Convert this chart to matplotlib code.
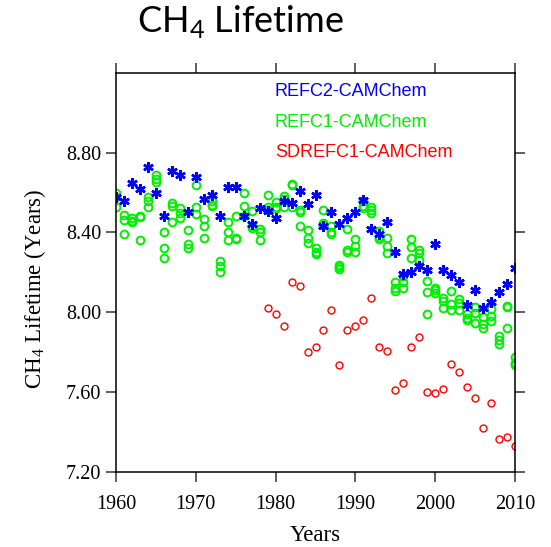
import numpy as np
import matplotlib.pyplot as plt

plt.rcParams['mathtext.fontset'] = 'custom'
plt.rcParams['mathtext.rm'] = 'Liberation Serif'
plt.rcParams['mathtext.sf'] = 'Lato'

# REFC2 run, one value per year 1960-2010
years_c2 = np.arange(1960, 2011)
life_c2 = [8.58, 8.56, 8.65, 8.62, 8.73, 8.60, 8.48, 8.71, 8.69, 8.50,
           8.68, 8.57, 8.59, 8.48, 8.63, 8.63, 8.48, 8.44, 8.52, 8.505,
           8.47, 8.56, 8.55, 8.61, 8.545, 8.59, 8.43, 8.50, 8.44, 8.47,
           8.50, 8.565, 8.415, 8.39, 8.45, 8.30, 8.19, 8.20, 8.23, 8.21,
           8.34, 8.21, 8.185, 8.15, 8.035, 8.11, 8.02, 8.05, 8.10, 8.14,
           8.22]

# REFC1 ensemble, three members per year 1960-2010
years_c1 = np.arange(1960, 2011)
life_c1 = [
    [8.60, 8.58, 8.53], [8.485, 8.46, 8.39], [8.47, 8.455, 8.45],
    [8.48, 8.475, 8.36], [8.58, 8.56, 8.53], [8.69, 8.67, 8.655],
    [8.40, 8.32, 8.27], [8.55, 8.535, 8.45], [8.52, 8.495, 8.47],
    [8.41, 8.34, 8.32], [8.64, 8.53, 8.49], [8.465, 8.43, 8.37],
    [8.56, 8.54, 8.535], [8.255, 8.23, 8.20], [8.45, 8.40, 8.36],
    [8.48, 8.37, 8.365], [8.60, 8.535, 8.48], [8.505, 8.43, 8.42],
    [8.415, 8.40, 8.36], [8.59, 8.53, 8.51], [8.555, 8.53, 8.52],
    [8.585, 8.57, 8.525], [8.645, 8.64, 8.53], [8.51, 8.50, 8.43],
    [8.41, 8.37, 8.345], [8.32, 8.30, 8.29], [8.51, 8.445, 8.435],
    [8.43, 8.40, 8.39], [8.235, 8.225, 8.215], [8.415, 8.31, 8.30],
    [8.365, 8.33, 8.30], [8.56, 8.535, 8.52], [8.53, 8.51, 8.495],
    [8.405, 8.375, 8.365], [8.37, 8.33, 8.295], [8.15, 8.12, 8.105],
    [8.18, 8.15, 8.12], [8.365, 8.325, 8.27], [8.31, 8.295, 8.26],
    [8.155, 8.10, 7.99], [8.12, 8.11, 8.095], [8.07, 8.055, 8.02],
    [8.105, 8.04, 8.01], [8.065, 8.045, 8.01], [7.99, 7.97, 7.96],
    [8.025, 7.995, 7.945], [7.975, 7.94, 7.92], [8.015, 7.98, 7.955],
    [7.88, 7.86, 7.84], [8.03, 8.025, 7.92], [7.775, 7.745, 7.735],
]

# SD run, 1979-2010
years_sd = np.arange(1979, 2011)
life_sd = [8.02, 7.99, 7.93, 8.15, 8.13, 7.80, 7.825, 7.91, 8.01, 7.735,
           7.91, 7.93, 7.96, 8.07, 7.825, 7.805, 7.61, 7.645, 7.825, 7.875,
           7.60, 7.595, 7.615, 7.74, 7.70, 7.625, 7.57, 7.42, 7.545, 7.365,
           7.375, 7.33]

labels = ['REFC2-CAMChem', 'REFC1-CAMChem', 'SDREFC1-CAMChem']
colors = ['#0000ff', '#00ee00', '#ff0000']

fig = plt.figure(figsize=(5.51, 5.47), dpi=100)
ax = fig.add_axes([0.2105, 0.1371, 0.7242, 0.7299])

c1 = np.array(life_c1)
for k in range(c1.shape[1]):
    ax.plot(years_c1, c1[:, k], 'o', mfc='none', mec=colors[1], ms=5.6, mew=1.4)
ax.plot(years_sd, life_sd, 'o', mfc='none', mec=colors[2], ms=5.0, mew=1.0)
ax.plot(years_c2, life_c2, marker=(6, 2, 0), ls='none', color=colors[0],
        ms=7.5, mew=1.8)

ax.set_xlim(1960, 2010)
ax.set_ylim(7.2, 9.2)
ax.set_xticks(np.arange(1960, 2011, 10))
ax.set_yticks(np.arange(7.2, 8.81, 0.4))
ax.set_yticklabels(['%.2f' % v for v in np.arange(7.2, 8.81, 0.4)])
ax.tick_params(direction='out', length=7.5, width=1.1, color='#333333',
               top=True, right=True, labelsize=14.5)
ax.tick_params(axis='x', pad=9)
ax.tick_params(axis='y', pad=3)
for lab in ax.get_xticklabels() + ax.get_yticklabels():
    lab.set_family('Liberation Serif')
for s in ax.spines.values():
    s.set_linewidth(1.1)

ax.set_xlabel('Years', family='Liberation Serif', fontsize=16.5)
ax.set_ylabel(r'CH$_4$ Lifetime (Years)', family='Liberation Serif',
              fontsize=16.5)
ax.xaxis.set_label_coords(0.5, -0.133)
ax.yaxis.set_label_coords(-0.17, 0.46)

for i in range(3):
    ax.text(0.398, 0.952 - 0.0755 * i, labels[i], transform=ax.transAxes,
            color=colors[i], fontsize=13, family='Liberation Sans', va='center')

fig.text(0.436, 1 - 32 / 547, r'CH$_\mathsf{4}$ Lifetime', family='Lato',
         fontsize=26, ha='center', va='baseline')

fig.savefig('out.png', dpi=100)
